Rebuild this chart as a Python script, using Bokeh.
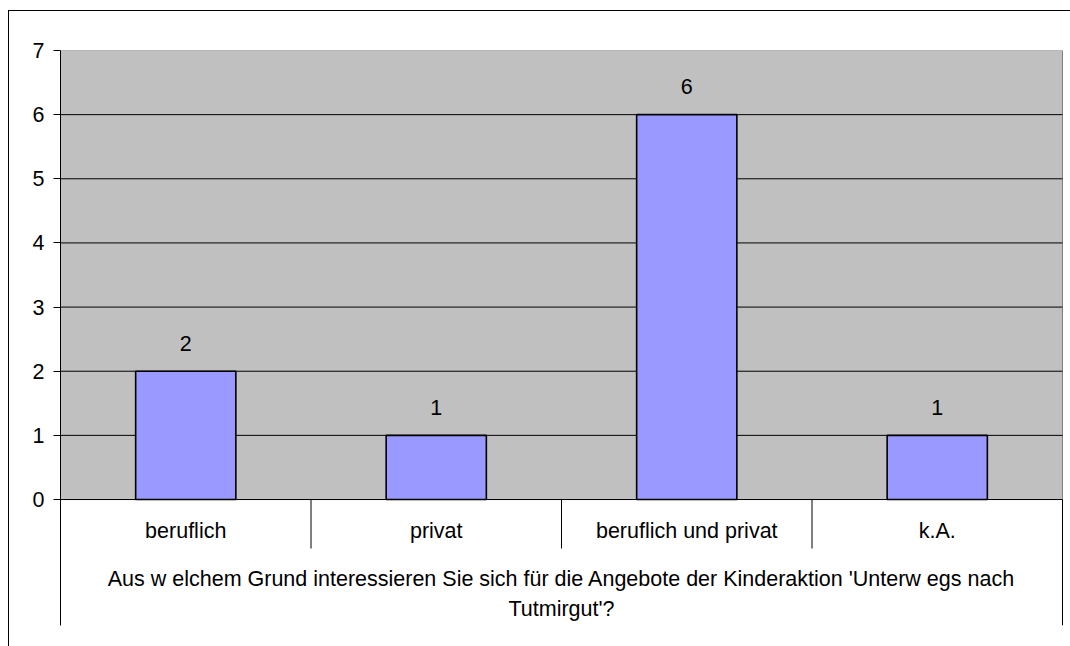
from bokeh.plotting import figure
from bokeh.models import Range1d, FixedTicker, InlineStyleSheet
from bokeh.core.properties import value
from bokeh.embed import file_html
from bokeh.resources import INLINE

categories = ["beruflich", "privat", "beruflich und privat", "k.A."]
counts = [2, 1, 6, 1]
y_ticks = [0, 1, 2, 3, 4, 5, 6, 7]
title_lines = ["Aus w elchem Grund interessieren Sie sich für die Angebote der Kinderaktion 'Unterw egs nach",
               "Tutmirgut'?"]

FONT = "Liberation Sans"
FS = "21.5px"

n = len(categories)
centers = [i + 0.5 for i in range(n)]
bounds_inner = [i for i in range(1, n)]

p = figure(width=1070, height=646, output_backend="svg", toolbar_location=None,
           x_range=Range1d(0, n * 1003 / 1002), y_range=Range1d(-1.964, 7),
           min_border_left=60, min_border_right=7, min_border_top=50, min_border_bottom=21,
           x_axis_type=None)
p.outline_line_color = None
p.background_fill_color = "white"
p.border_fill_color = "white"
p.grid.visible = False

# gray plot area
p.quad(left=[0], right=[n], bottom=[0], top=[max(y_ticks)], fill_color="#C0C0C0",
       line_color="#808080", line_width=1)
# horizontal grid lines
p.segment(x0=[0] * (len(y_ticks) - 1), x1=[n] * (len(y_ticks) - 1),
          y0=y_ticks[:-1], y1=y_ticks[:-1], line_color="black", line_width=1)
# bars
p.vbar(x=centers, top=counts, width=0.4, bottom=0, fill_color="#9999FF",
       line_color="black", line_width=1.6)
# value labels
p.text(x=centers, y=counts, text=[str(c) for c in counts], y_offset=-28,
       text_align="center", text_baseline="middle", text_font=value(FONT),
       text_font_size=FS, text_color="black")

# category table below
p.segment(x0=bounds_inner, x1=bounds_inner, y0=[0] * len(bounds_inner),
          y1=[-0.764] * len(bounds_inner), line_color="black", line_width=1)
p.segment(x0=[n], x1=[n], y0=[0], y1=[-1.964], line_color="black", line_width=1)
p.text(x=centers, y=[-0.49] * n, text=categories, text_align="center",
       text_baseline="middle", text_font=value(FONT), text_font_size=FS, text_color="black")
p.text(x=[n / 2] * len(title_lines), y=[-1.24, -1.70], text=title_lines, text_align="center",
       text_baseline="middle", text_font=value(FONT), text_font_size=FS, text_color="black")

# y axis
ya = p.yaxis[0]
ya.ticker = FixedTicker(ticks=y_ticks)
ya.major_tick_out = 7
ya.major_tick_in = 0
ya.minor_tick_line_color = None
ya.axis_line_color = "black"
ya.major_tick_line_color = "black"
ya.major_label_standoff = 9
ya.major_label_text_font = FONT
ya.major_label_text_font_size = FS
ya.major_label_text_color = "black"

# outer chart frame (top and left edges; right/bottom run off the page)
p.stylesheets = [InlineStyleSheet(css=(
    ":host { position: relative; }"
    ":host::after { content: ''; position: absolute; left: 8px; top: 10px; right: 0; bottom: 0;"
    " border-left: 1px solid black; border-top: 1px solid black; pointer-events: none; z-index: 10; }"
))]

open("out.html", "w").write(file_html(p, INLINE))
